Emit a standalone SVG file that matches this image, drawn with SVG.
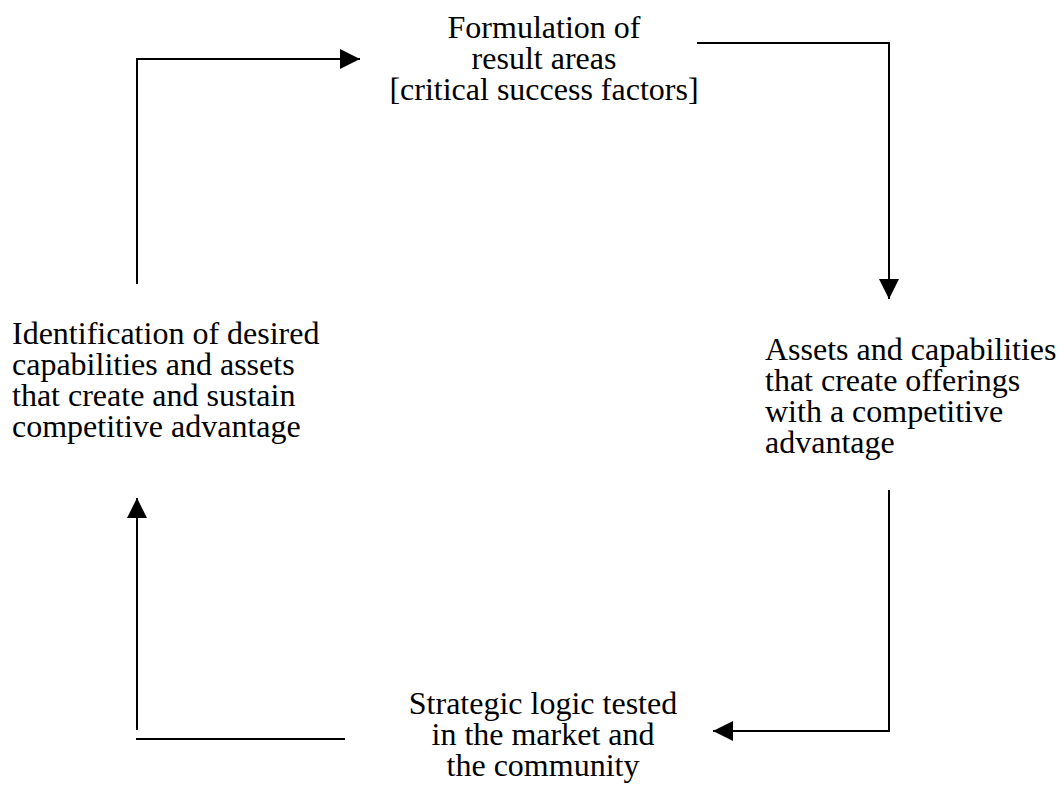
<svg xmlns="http://www.w3.org/2000/svg" width="1064" height="793" viewBox="0 0 1064 793">
  <style>
    .lbl { font-family: "Liberation Serif", "Times New Roman", serif; font-size: 32px; fill: #000; }
    .mid { text-anchor: middle; }
    .wire { fill: none; stroke: #000; stroke-width: 2; }
  </style>
  <defs>
    <marker id="head" markerUnits="userSpaceOnUse" markerWidth="20" markerHeight="20" refX="20" refY="10" orient="auto" viewBox="0 0 20 20">
      <path d="M0,0 L20,10 L0,20 Z" fill="#000"/>
    </marker>
  </defs>

  <rect width="1064" height="793" fill="#fff"/>

  <!-- cycle connectors -->
  <g id="connectors">
    <path class="wire" d="M137,284 V59 H360" marker-end="url(#head)"/>
    <path class="wire" d="M697,43 H889 V299" marker-end="url(#head)"/>
    <path class="wire" d="M889,490 V731 H713" marker-end="url(#head)"/>
    <path class="wire" d="M345,739 H136"/>
    <path class="wire" d="M137,730 V498" marker-end="url(#head)"/>
  </g>

  <g id="result-areas">
    <text class="lbl mid" x="544" y="38">Formulation of</text>
    <text class="lbl mid" x="544" y="69">result areas</text>
    <text class="lbl mid" x="544" y="100">[critical success factors]</text>
  </g>

  <g id="assets-offerings">
    <text class="lbl" x="765" y="360">Assets and capabilities</text>
    <text class="lbl" x="765" y="391">that create offerings</text>
    <text class="lbl" x="765" y="422">with a competitive</text>
    <text class="lbl" x="765" y="453">advantage</text>
  </g>

  <g id="market-test">
    <text class="lbl mid" x="543" y="714">Strategic logic tested</text>
    <text class="lbl mid" x="543" y="745">in the market and</text>
    <text class="lbl mid" x="543" y="776">the community</text>
  </g>

  <g id="desired-capabilities">
    <text class="lbl" x="12" y="344">Identification of desired</text>
    <text class="lbl" x="12" y="375">capabilities and assets</text>
    <text class="lbl" x="12" y="406">that create and sustain</text>
    <text class="lbl" x="12" y="437">competitive advantage</text>
  </g>
</svg>
